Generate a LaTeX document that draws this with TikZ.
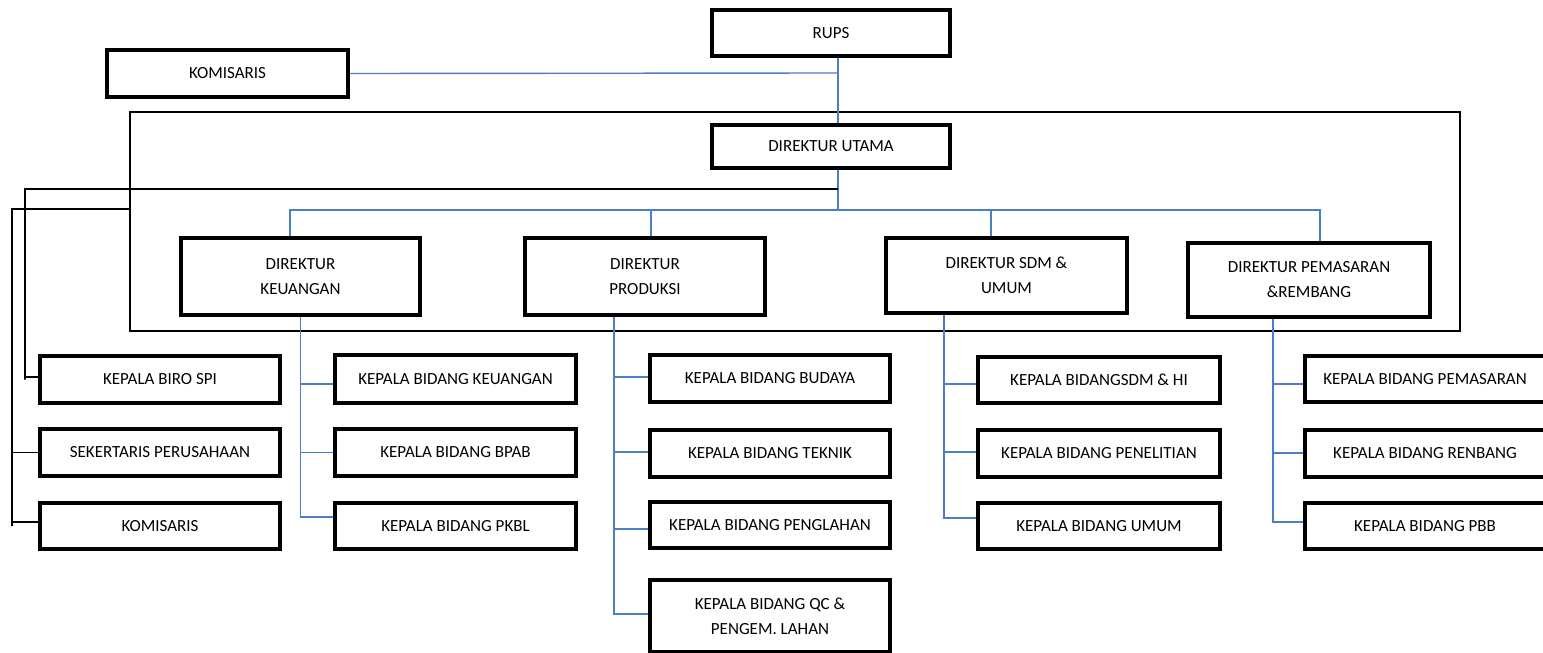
\documentclass[tikz,border=0pt]{standalone}
\usepackage{fontspec}
\setmainfont{Carlito}
\definecolor{linkblue}{RGB}{74,126,197}
\begin{document}
\begin{tikzpicture}[x=1pt,y=-1pt,
  box/.style={draw=black, line width=4pt, rectangle, align=center, fill=white,
    font=\fontsize{17}{25}\selectfont, text=black, inner sep=0pt},
  sz/.style 2 args={minimum width=#1pt, minimum height=#2pt},
  bl/.style={draw=linkblue, line width=1.4pt},
  bk/.style={draw=black, line width=1.3pt}]
\useasboundingbox (0,0) rectangle (1543,653);

% frame
\node[draw=black, line width=1.3pt, sz={1330}{219}, inner sep=0pt] (frame) at (795,221.5) {};

% top
\node[box,sz={238}{46}] (rups) at (831,33) {RUPS};
\node[box,sz={241}{47}] (kom) at (227.5,73.5) {KOMISARIS};
\node[box,sz={238}{43}] (du) at (831,146.5) {DIREKTUR UTAMA};

% directors
\node[box,sz={239}{77}] (dk) at (300.5,276.5) {DIREKTUR\\KEUANGAN};
\node[box,sz={240}{77}] (dp) at (645,276.5) {DIREKTUR\\PRODUKSI};
\node[box,sz={241}{75}] (ds) at (1006.5,275.5) {DIREKTUR SDM \&\\UMUM};
\node[box,sz={242}{74}] (dm) at (1309,280) {DIREKTUR PEMASARAN\\\&REMBANG};

% left column
\node[box,sz={240}{47}] (spi) at (160,379.5) {KEPALA BIRO SPI};
\node[box,sz={240}{47}] (sek) at (160,452.5) {SEKERTARIS PERUSAHAAN};
\node[box,sz={240}{46}] (kom2) at (160,526) {KOMISARIS};

% keuangan column
\node[box,sz={241}{48}] (kk1) at (455.5,379) {KEPALA BIDANG KEUANGAN};
\node[box,sz={241}{47}] (kk2) at (455.5,452.5) {KEPALA BIDANG BPAB};
\node[box,sz={241}{46}] (kk3) at (455.5,526) {KEPALA BIDANG PKBL};

% produksi column
\node[box,sz={240}{47}] (kp1) at (770,378.5) {KEPALA BIDANG BUDAYA};
\node[box,sz={240}{47}] (kp2) at (770,453.5) {KEPALA BIDANG TEKNIK};
\node[box,sz={240}{46}] (kp3) at (770,525) {KEPALA BIDANG PENGLAHAN};
\node[box,sz={240}{72}] (kp4) at (770,616) {KEPALA BIDANG QC \&\\PENGEM. LAHAN};

% sdm column
\node[box,sz={242}{46}] (ks1) at (1099,379.5) {KEPALA BIDANGSDM \& HI};
\node[box,sz={242}{47}] (ks2) at (1099,453.5) {KEPALA BIDANG PENELITIAN};
\node[box,sz={242}{46}] (ks3) at (1099,526) {KEPALA BIDANG UMUM};

% pemasaran column
\node[box,sz={240}{46}] (km1) at (1425,379) {KEPALA BIDANG PEMASARAN};
\node[box,sz={240}{47}] (km2) at (1425,453.5) {KEPALA BIDANG RENBANG};
\node[box,sz={240}{46}] (km3) at (1425,526) {KEPALA BIDANG PBB};

% blue connectors top
\coordinate (rj) at (838,73);
\coordinate (bus) at (838,210);
\draw[bl] ([xshift=7pt]rups.south) -- ([xshift=7pt]du.north);
\draw[bl] (kom.east) -- (rj);
\draw[bl] ([xshift=7pt]du.south) -- (bus);
\draw[bl] ([xshift=-10.5pt]dk.north) |- (bus) -| ([xshift=11pt]dm.north);
\draw[bl] ([xshift=6pt]dp.north) -- ([xshift=6pt]dp.north |- bus);
\draw[bl] ([xshift=-15.5pt]ds.north) -- ([xshift=-15.5pt]ds.north |- bus);

% black connectors left
\coordinate (b1) at (838,189);
\coordinate (b2) at (130,209);
\draw[bk] (b1) -| ([xshift=-13pt]spi.west) |- ([yshift=2.5pt]spi.west);
\draw[bk] (b2) -| ([xshift=-26pt]kom2.west) |- ([yshift=4pt]kom2.west);
\draw[bk] ([xshift=-26pt]sek.west) -- (sek.west);

% blue branches (yshift: positive = up on page)
\foreach \t/\d in {kk1/-5,kk2/0,kk3/9} \draw[bl] (dk.south) |- ([yshift=\d pt]\t.west);
\foreach \t/\d in {kp1/1.5,kp2/1.5,kp3/-4,kp4/2} \draw[bl] ([xshift=-31pt]dp.south) |- ([yshift=\d pt]\t.west);
\foreach \t/\d in {ks1/-4.5,ks2/1.5,ks3/8} \draw[bl] ([xshift=-62.5pt]ds.south) |- ([yshift=\d pt]\t.west);
\foreach \t/\d in {km1/-5,km2/0.5,km3/4} \draw[bl] ([xshift=-36pt]dm.south) |- ([yshift=\d pt]\t.west);
\end{tikzpicture}
\end{document}
